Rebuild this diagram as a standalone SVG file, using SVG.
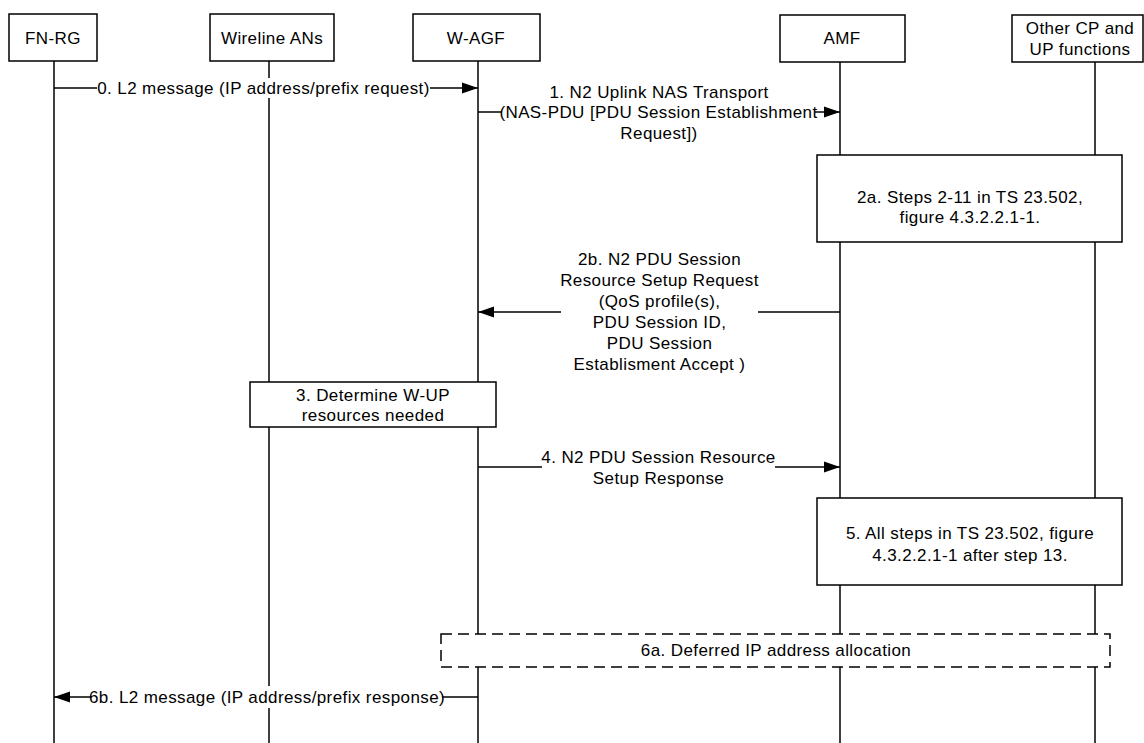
<svg xmlns="http://www.w3.org/2000/svg" width="1144" height="743" viewBox="0 0 1144 743">
<defs>
<style>
.hdr{fill:#fff;stroke:#000;stroke-width:1.5}
.life{stroke:#000;stroke-width:1.5;fill:none}
.msg{stroke:#000;stroke-width:1.3;fill:none}
.bg{fill:#fff;stroke:none}
.act{fill:#fff;stroke:#000;stroke-width:1.5}
.dash{fill:#fff;stroke:#000;stroke-width:1.5;stroke-dasharray:11 6}
text{font-family:"Liberation Sans",Arial,sans-serif;font-size:17px;letter-spacing:0.4px;fill:#000;text-anchor:middle}
</style>
<marker id="arr" markerUnits="userSpaceOnUse" markerWidth="17" markerHeight="12" refX="16" refY="6" orient="auto">
<path d="M0,0.5 L16,6 L0,11.5 z" fill="#000"/>
</marker>
</defs>
<rect width="1144" height="743" fill="#fff"/>

<g id="lifelines">
<line class="life" x1="54" y1="61" x2="54" y2="743"/>
<line class="life" x1="269" y1="61" x2="269" y2="743"/>
<line class="life" x1="478" y1="61" x2="478" y2="743"/>
<line class="life" x1="840" y1="62" x2="840" y2="743"/>
<line class="life" x1="1095" y1="62" x2="1095" y2="743"/>
</g>

<g id="node-fnrg">
<rect class="hdr" x="9" y="14" width="88" height="47"/>
<text x="53" y="44">FN-RG</text>
</g>
<g id="node-wireline">
<rect class="hdr" x="210" y="14" width="124" height="47"/>
<text x="272" y="44">Wireline ANs</text>
</g>
<g id="node-wagf">
<rect class="hdr" x="413" y="14" width="127" height="47"/>
<text x="476" y="44">W-AGF</text>
</g>
<g id="node-amf">
<rect class="hdr" x="780" y="15" width="125" height="47"/>
<text x="842" y="44">AMF</text>
</g>
<g id="node-other">
<rect class="hdr" x="1012" y="15" width="131" height="47"/>
<text x="1080" y="34">Other CP and</text>
<text x="1080" y="55">UP functions</text>
</g>

<g id="connectors">
<line class="msg" x1="54" y1="88" x2="478" y2="88" marker-end="url(#arr)"/>
<rect class="bg" x="97" y="78" width="333" height="20"/>
<text x="263.5" y="94">0. L2 message (IP address/prefix request)</text>

<line class="msg" x1="478" y1="112" x2="840" y2="112" marker-end="url(#arr)"/>
<rect class="bg" x="502" y="102" width="313" height="20"/>
<text x="659" y="98">1. N2 Uplink NAS Transport</text>
<text x="658.5" y="118">(NAS-PDU [PDU Session Establishment</text>
<text x="659" y="139">Request])</text>

<line class="msg" x1="840" y1="312" x2="478" y2="312" marker-end="url(#arr)"/>
<rect class="bg" x="561" y="302" width="197" height="20"/>
<text x="659.5" y="265">2b. N2 PDU Session</text>
<text x="659.5" y="286">Resource Setup Request</text>
<text x="659.5" y="307">(QoS profile(s),</text>
<text x="659.5" y="328">PDU Session ID,</text>
<text x="659.5" y="349">PDU Session</text>
<text x="659.5" y="370">Establisment Accept )</text>

<line class="msg" x1="478" y1="467" x2="840" y2="467" marker-end="url(#arr)"/>
<rect class="bg" x="542" y="457" width="233" height="20"/>
<text x="658.5" y="463">4. N2 PDU Session Resource</text>
<text x="658.5" y="484">Setup Response</text>

<line class="msg" x1="478" y1="697" x2="54" y2="697" marker-end="url(#arr)"/>
<rect class="bg" x="92" y="686" width="350" height="22"/>
<text x="267" y="703">6b. L2 message (IP address/prefix response)</text>
</g>

<g id="node-2a">
<rect class="act" x="817" y="155" width="305" height="87"/>
<text x="970" y="203">2a. Steps 2-11 in TS 23.502,</text>
<text x="970" y="223">figure 4.3.2.2.1-1.</text>
</g>
<g id="node-3">
<rect class="act" x="250" y="382" width="246" height="45"/>
<text x="373" y="401">3. Determine W-UP</text>
<text x="373" y="421">resources needed</text>
</g>
<g id="node-5">
<rect class="act" x="817" y="498" width="305" height="87"/>
<text x="970" y="539">5. All steps in TS 23.502, figure</text>
<text x="970" y="561">4.3.2.2.1-1 after step 13.</text>
</g>
<g id="node-6a">
<rect class="dash" x="441" y="634" width="669" height="33"/>
<text x="776" y="656">6a. Deferred IP address allocation</text>
</g>
</svg>
